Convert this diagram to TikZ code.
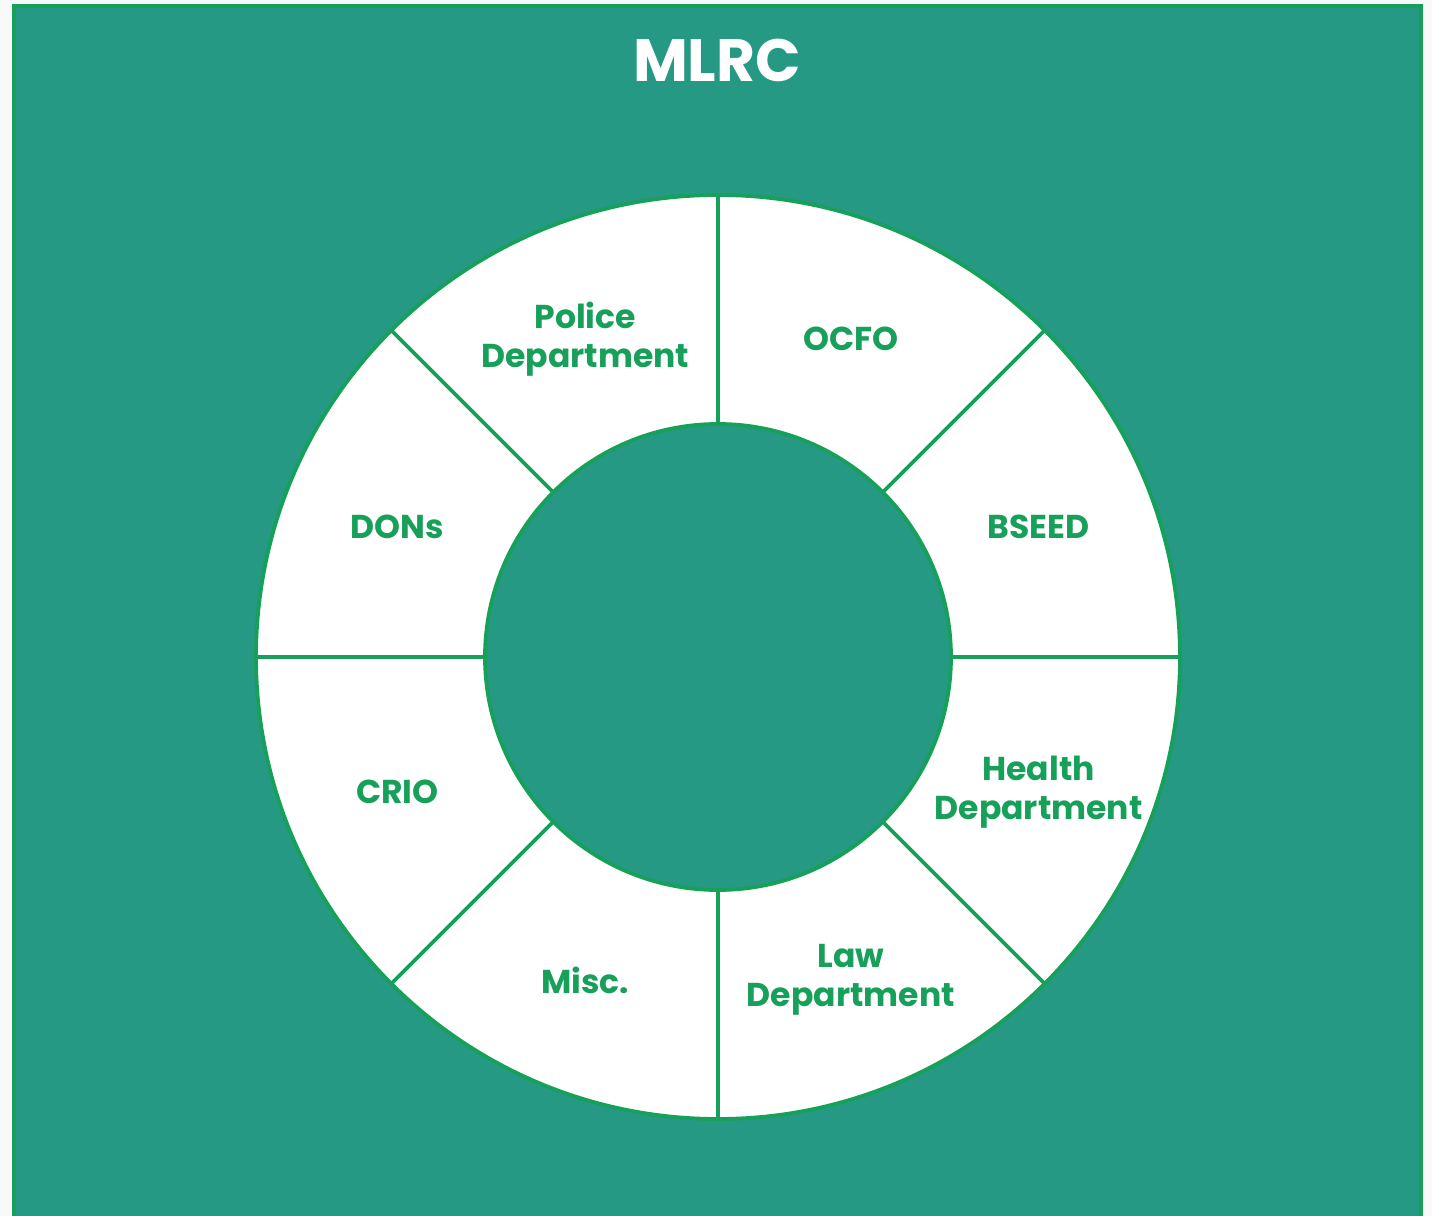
\documentclass[tikz,border=0pt]{standalone}
\usepackage{fontspec}
\setmainfont{Poppins}
\usetikzlibrary{calc}
\definecolor{mlrcteal}{RGB}{38,153,133}
\definecolor{mlrcgreen}{RGB}{22,160,90}
\definecolor{pagegrey}{RGB}{249,249,249}
\tikzset{
  ringline/.style={draw=mlrcgreen, line width=0.38mm},
  seglabel/.style={font=\bfseries\fontsize{9.4}{11}\selectfont, text=mlrcgreen, align=center, yshift=-0.25mm}
}
\begin{document}
\begin{tikzpicture}[x=0.1mm,y=0.1mm]
  \useasboundingbox (0,0) rectangle (1432,1216);
  \fill[pagegrey] (0,0) rectangle (1432,1216);
  \draw[mlrcgreen, fill=mlrcteal, line width=0.35mm] (14,-10) rectangle (1421,1210);
  \node[text=white, font=\bfseries\fontsize{17}{20}\selectfont] (title) at (717,1156) {MLRC};
  \coordinate (c) at (718,559);
  \draw[ringline, fill=white] (c) circle[radius=462];
  \foreach \a in {0,45,...,315}
    \draw[ringline] ($(c)+(\a:233)$) -- ($(c)+(\a:462)$);
  \draw[ringline, fill=mlrcteal] (c) circle[radius=233];
  \foreach \a/\name/\txt in {112.5/police/{Police\\Department}, 67.5/ocfo/{OCFO},
      22.5/bseed/{BSEED}, -22.5/health/{Health\\Department}, -67.5/law/{Law\\Department},
      -112.5/misc/{Misc.}, -157.5/crio/{CRIO}, 157.5/dons/{DONs}}
    \node[seglabel] (\name) at ($(c)+(\a:347)$) {\txt};
\end{tikzpicture}
\end{document}
